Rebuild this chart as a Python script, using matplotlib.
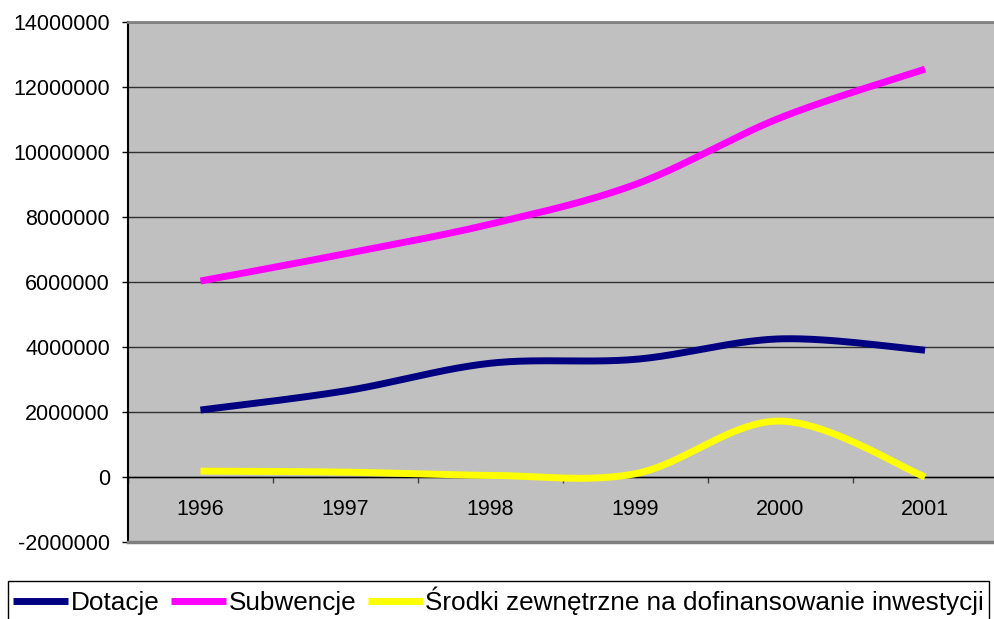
import numpy as np
import matplotlib
matplotlib.use("Agg")
import matplotlib.pyplot as plt
from matplotlib.ticker import MultipleLocator, FixedLocator

plt.rcParams['font.family'] = ['Liberation Sans', 'DejaVu Sans']

years = ['1996', '1997', '1998', '1999', '2000', '2001']
dotacje = [2060000, 2650000, 3500000, 3620000, 4250000, 3900000]
subwencje = [6030000, 6870000, 7780000, 9000000, 11050000, 12550000]
srodki = [180000, 150000, 50000, 100000, 1720000, 0]
series_names = ['Dotacje', 'Subwencje', 'Środki zewnętrzne na dofinansowanie inwestycji']
colors = ['#000080', '#FF00FF', '#FFFF00']


def smooth(xs, ys, n=40):
    """Excel-like Catmull-Rom Bezier smoothing through the data points."""
    xs = np.asarray(xs, float)
    ys = np.asarray(ys, float)
    P = np.column_stack([xs, ys])
    out = []
    m = len(P)
    for i in range(m - 1):
        p0 = P[i - 1] if i > 0 else P[i]
        p1 = P[i]
        p2 = P[i + 1]
        p3 = P[i + 2] if i + 2 < m else P[i + 1]
        c1 = p1 + (p2 - p0) / 6.0
        c2 = p2 - (p3 - p1) / 6.0
        t = np.linspace(0, 1, n)[:, None]
        seg = ((1 - t) ** 3) * p1 + 3 * ((1 - t) ** 2) * t * c1 + 3 * (1 - t) * t ** 2 * c2 + t ** 3 * p2
        if i > 0:
            seg = seg[1:]
        out.append(seg)
    out = np.vstack(out)
    return out[:, 0], out[:, 1]


W, H = 994, 619
fig = plt.figure(figsize=(W / 100, H / 100), dpi=100)
ax = fig.add_axes([128 / W, 1 - 542 / H, (997.5 - 128) / W, (542 - 22) / H])
ax.set_facecolor('#C0C0C0')

x = np.arange(len(years))
for vals, name, c in zip([dotacje, subwencje, srodki], series_names, colors):
    sx, sy = smooth(x, vals)
    ax.plot(sx, sy, color=c, lw=5, solid_capstyle='butt', label=name, zorder=3)

ax.set_xlim(-0.5, len(years) - 0.5)
ax.set_ylim(-2000000, 14000000)
ax.yaxis.set_major_locator(MultipleLocator(2000000))
ax.yaxis.set_major_formatter(plt.FuncFormatter(lambda v, p: f'{int(v)}'))
ax.grid(axis='y', color='#303030', lw=1, zorder=1)
ax.set_axisbelow(True)

ax.set_xticks(x)
ax.set_xticklabels(years)
ax.xaxis.set_minor_locator(FixedLocator(np.arange(-0.5, len(years), 1.0)))
ax.tick_params(axis='x', which='major', length=0, pad=15.5, labelsize=15.5)
ax.tick_params(axis='x', which='minor', length=4.5, width=1, color='#404040', direction='out')
ax.tick_params(axis='y', which='major', length=4.5, width=1, pad=8.5, labelsize=15.5)

ax.spines['bottom'].set_position(('data', 0))
ax.spines['bottom'].set_color('black')
ax.spines['bottom'].set_linewidth(1)
ax.spines['left'].set_color('black')
ax.spines['left'].set_linewidth(1.5)
ax.spines['top'].set_color('#808080')
ax.spines['top'].set_linewidth(2)
ax.spines['right'].set_visible(False)
ax.axhline(-2000000, color='#808080', lw=2.5, clip_on=False, zorder=5)

leg = fig.legend(loc='upper left', bbox_to_anchor=(8 / W, 1 - 581 / H), ncol=3,
                 fontsize=18.8, frameon=True, fancybox=False, edgecolor='black',
                 handlelength=2.1, handletextpad=0.1, columnspacing=0.45,
                 borderpad=0.2, borderaxespad=0, framealpha=1)
leg.get_frame().set_linewidth(1)
for lh in leg.get_lines():
    lh.set_linewidth(5)

fig.savefig('out.png', dpi=100)
